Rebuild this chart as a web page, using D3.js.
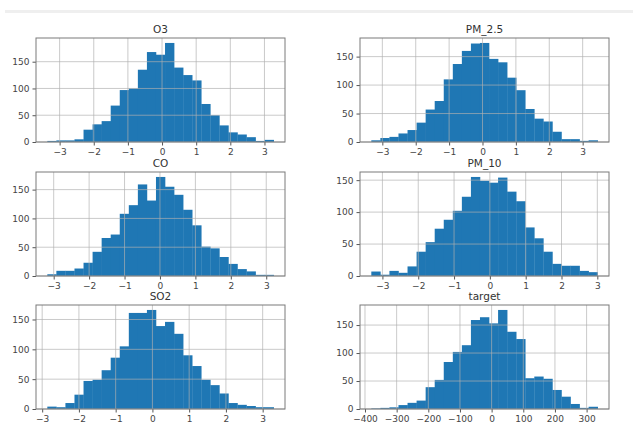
<!DOCTYPE html>
<html>
<head>
<meta charset="utf-8">
<script src="https://cdn.jsdelivr.net/npm/d3@7"></script>
<style>
  body { margin: 0; background: #fff; }
  svg { display: block; font-family: "DejaVu Sans", sans-serif; }
</style>
</head>
<body>
<div id="chart"></div>
<script>
// histogram counts (25 bins each)
const o3Counts   = [2, 3, 3, 5, 23, 33, 39, 68, 97, 100, 135, 168, 163, 185, 139, 125, 115, 71, 50, 31, 18, 14, 9, 2, 4];
const pm25Counts = [3, 7, 9, 15, 21, 34, 57, 72, 110, 137, 160, 173, 174, 146, 140, 113, 91, 58, 41, 36, 18, 5, 5, 2, 3];
const coCounts   = [3, 9, 9, 13, 23, 42, 66, 72, 108, 123, 159, 131, 172, 155, 141, 115, 88, 51, 48, 33, 21, 12, 8, 2, 2];
const pm10Counts = [7, 2, 8, 5, 15, 38, 53, 74, 88, 102, 124, 155, 149, 146, 154, 132, 117, 76, 59, 38, 19, 16, 16, 8, 6];
const so2Counts  = [4, 3, 10, 24, 47, 49, 65, 86, 105, 161, 161, 166, 139, 146, 126, 90, 72, 49, 40, 26, 10, 7, 5, 3, 3];
const targetCounts = [1, 2, 3, 7, 11, 15, 39, 52, 84, 102, 114, 159, 164, 153, 177, 138, 125, 55, 58, 54, 34, 22, 9, 2, 4];

// value range covered by the bins
const o3Range   = [-3.36, 3.27];
const pm25Range = [-3.33, 3.45];
const coRange   = [-3.18, 3.21];
const pm10Range = [-3.31, 3.01];
const so2Range  = [-2.86, 3.30];
const targetRange = [-380, 335];

const titles = ['O3', 'PM_2.5', 'CO', 'PM_10', 'SO2', 'target'];
const unitTicks = [-3, -2, -1, 0, 1, 2, 3];
const targetTicks = [-400, -300, -200, -100, 0, 100, 200, 300];
const countTicks = [0, 50, 100, 150];

const panels = [
  {title: titles[0], counts: o3Counts, range: o3Range, ticks: unitTicks},
  {title: titles[1], counts: pm25Counts, range: pm25Range, ticks: unitTicks},
  {title: titles[2], counts: coCounts, range: coRange, ticks: unitTicks},
  {title: titles[3], counts: pm10Counts, range: pm10Range, ticks: unitTicks},
  {title: titles[4], counts: so2Counts, range: so2Range, ticks: unitTicks},
  {title: titles[5], counts: targetCounts, range: targetRange, ticks: targetTicks}
];

const width = 633, height = 424;
const colLeft = [36, 360];
const rowTop = [38, 172, 305];
const pw = 249, ph = 104;
const barColor = '#1f77b4';

const svg = d3.select('#chart').append('svg')
  .attr('width', width)
  .attr('height', height);

// faint band along the top edge
svg.append('rect')
  .attr('x', 5).attr('y', 10)
  .attr('width', width - 5).attr('height', 3)
  .attr('fill', '#efefef');

panels.forEach((p, i) => {
  const g = svg.append('g')
    .attr('transform', `translate(${colLeft[i % 2]}, ${rowTop[Math.floor(i / 2)]})`);

  const n = p.counts.length;
  const step = (p.range[1] - p.range[0]) / n;
  const bins = p.counts.map((c, k) => ({x0: p.range[0] + k * step, x1: p.range[0] + (k + 1) * step, count: c}));

  const pad = (p.range[1] - p.range[0]) * 0.05;
  const x = d3.scaleLinear()
    .domain([p.range[0] - pad, p.range[1] + pad])
    .range([0, pw]);
  const y = d3.scaleLinear()
    .domain([0, d3.max(p.counts) * 1.05])
    .range([ph, 0]);

  g.selectAll('rect.bar')
    .data(bins)
    .enter().append('rect')
      .attr('class', 'bar')
      .attr('x', (d) => x(d.x0))
      .attr('width', (d) => x(d.x1) - x(d.x0) + 0.3)
      .attr('y', (d) => y(d.count))
      .attr('height', (d) => ph - y(d.count))
      .attr('fill', barColor);

  // grid sits on top of the bars
  const grid = g.append('g')
    .attr('stroke', '#b0b0b0')
    .attr('stroke-opacity', 0.75)
    .attr('stroke-width', 0.9);
  grid.selectAll('line.vx')
    .data(p.ticks)
    .enter().append('line')
      .attr('x1', (d) => x(d)).attr('x2', (d) => x(d))
      .attr('y1', 0).attr('y2', ph);
  grid.selectAll('line.hy')
    .data(countTicks.filter((t) => t <= y.domain()[1]))
    .enter().append('line')
      .attr('x1', 0).attr('x2', pw)
      .attr('y1', (d) => y(d)).attr('y2', (d) => y(d));

  const xAxis = g.append('g')
    .attr('transform', `translate(0, ${ph})`)
    .call(d3.axisBottom(x).tickValues(p.ticks).tickSize(3.5).tickPadding(3).tickFormat(d3.format('d')));
  const yAxis = g.append('g')
    .call(d3.axisLeft(y).tickValues(countTicks).tickSize(3.5).tickPadding(3).tickFormat(d3.format('d')));

  [xAxis, yAxis].forEach((ax) => {
    ax.select('.domain').remove();
    ax.selectAll('line').attr('stroke', '#555');
    ax.selectAll('text')
      .attr('fill', '#444')
      .style('font-size', '9px')
      .style('font-family', '"DejaVu Sans", sans-serif');
  });

  g.append('rect')
    .attr('width', pw).attr('height', ph)
    .attr('fill', 'none')
    .attr('stroke', '#7a7a7a')
    .attr('stroke-width', 1);

  g.append('text')
    .attr('x', pw / 2).attr('y', -5)
    .attr('text-anchor', 'middle')
    .attr('fill', '#333')
    .style('font-size', '10.5px')
    .text(p.title);
});
</script>
</body>
</html>
